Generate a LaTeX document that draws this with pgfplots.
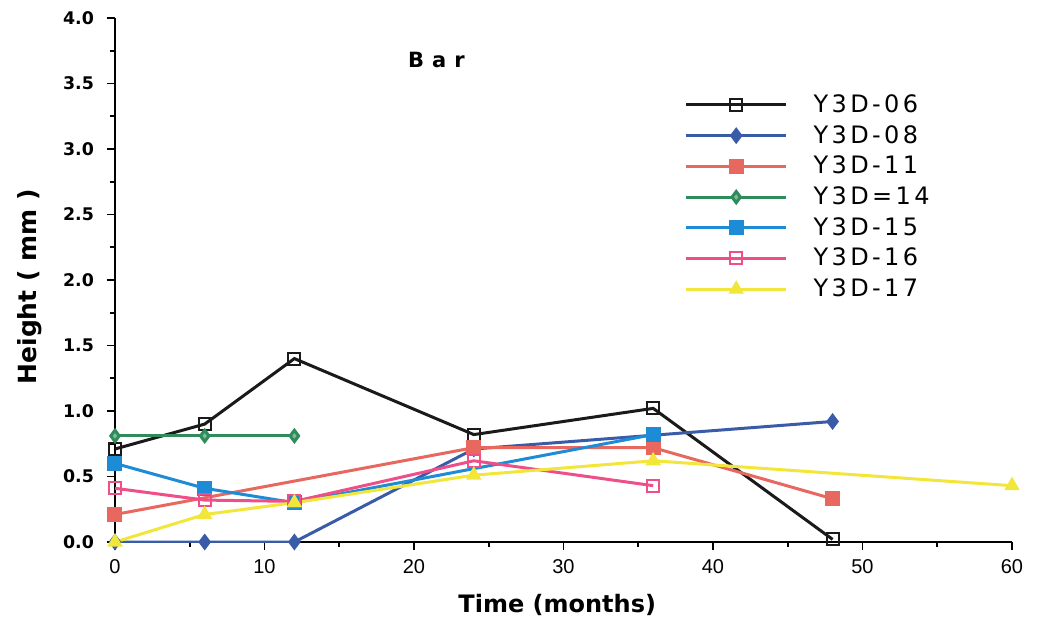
\documentclass[border=0pt]{standalone}
\usepackage{pgfplots}
\pgfplotsset{compat=1.18}
\usepackage{fontspec}
\setmainfont{Liberation Sans}
\newfontfamily\djb{DejaVu Sans}
\newfontfamily\lsp[LetterSpace=14]{DejaVu Sans}
\newfontfamily\bsp[LetterSpace=38]{DejaVu Sans}
\definecolor{c06}{HTML}{1A1A1A}
\definecolor{c08}{HTML}{3A5BA8}
\definecolor{c11}{HTML}{E8675E}
\definecolor{c14}{HTML}{2E8B5A}
\definecolor{c15}{HTML}{1E8BD6}
\definecolor{c16}{HTML}{EE4F88}
\definecolor{c17}{HTML}{F2E63A}
\begin{document}
\begin{tikzpicture}
\path[use as bounding box] (-57.5pt,-42.5pt) rectangle (462.5pt,271pt);
\begin{axis}[
  scale only axis, width=448.5pt, height=262pt,
  xmin=0, xmax=60, ymin=0, ymax=4,
  axis lines=left, axis line style={-, line width=1pt},
  xtick={0,10,...,60}, minor xtick={5,15,...,55},
  ytick={0,0.5,...,4}, minor ytick={0.25,0.75,...,3.75},
  tick align=outside, major tick length=4pt, minor tick length=2.5pt,
  tick style={line width=0.9pt, black},
  /pgf/number format/assume math mode=true,
  yticklabel style={/pgf/number format/.cd, fixed, fixed zerofill, precision=1, /tikz/.cd, font=\djb\bfseries\fontsize{8.7}{10}\selectfont, xshift=-3pt},
  xticklabel style={font=\fontsize{10}{11}\selectfont, yshift=-1pt},
  xlabel={\djb\bfseries\fontsize{12}{14}\selectfont Time (months)},
  xlabel style={at={(axis description cs:0.493,-0.12)}, anchor=center},
  ylabel={\djb\bfseries\fontsize{12.5}{14}\selectfont Height ( mm )},
  ylabel style={at={(axis description cs:-0.0948,0.487)}, anchor=center, rotate=0},
  every axis plot/.append style={line width=1.5pt, mark size=3pt},
  legend style={draw=none, fill=none, at={(rel axis cs:0.628,0.87)}, anchor=north west,
    font=\lsp\fontsize{12}{13}\selectfont, row sep=0.95pt, column sep=11pt},
  legend cell align=left,
  legend image code/.code={\draw[mark repeat=2,mark phase=2] plot coordinates {(0pt,0pt) (25pt,0pt) (50pt,0pt)};},
]
\addplot[c06, line width=1.5pt, mark=square, mark options={fill=white, solid, line width=1pt}] coordinates {(0,0.71) (6,0.9) (12,1.40) (24,0.82) (36,1.02) (48,0.02)};
\addlegendentry{Y3D-06}
\addplot[c08, line width=1.5pt, mark=diamond*, mark options={solid}] coordinates {(0,0) (6,0) (12,0) (24,0.71) (48,0.92)};
\addlegendentry{Y3D-08}
\addplot[c11, line width=1.5pt, mark=square*, mark options={solid}] coordinates {(0,0.21) (24,0.72) (36,0.72) (48,0.33)};
\addlegendentry{Y3D-11}
\addplot[c14, line width=1.5pt, mark=diamond*, mark options={solid, fill=c14!60!white, mark size=2.8pt}] coordinates {(0,0.81) (6,0.81) (12,0.81)};
\addlegendentry{Y3D=14}
\addplot[c15, line width=1.5pt, mark=square*, mark options={solid}] coordinates {(0,0.6) (6,0.41) (12,0.3) (36,0.82)};
\addlegendentry{Y3D-15}
\addplot[c16, line width=1.5pt, mark=square, mark options={fill=white, solid, line width=1pt}] coordinates {(0,0.41) (6,0.32) (12,0.31) (24,0.62) (36,0.43)};
\addlegendentry{Y3D-16}
\addplot[c17, line width=1.5pt, mark=triangle*, mark options={solid}] coordinates {(0,0) (6,0.21) (12,0.3) (24,0.51) (36,0.62) (60,0.43)};
\addlegendentry{Y3D-17}
\node[font=\bsp\bfseries\fontsize{10.5}{12}\selectfont] at (axis cs:21.5,3.68) {Bar};
\end{axis}
\end{tikzpicture}
\end{document}
